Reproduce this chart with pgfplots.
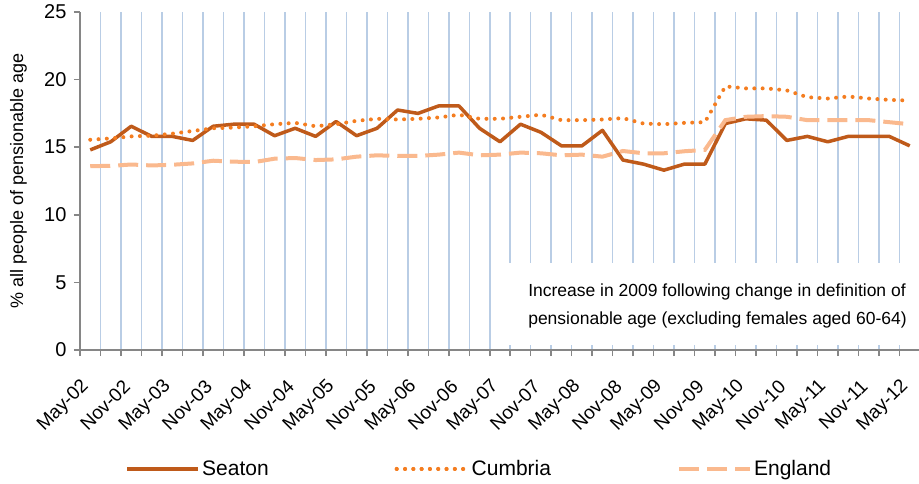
\documentclass[border=0pt]{standalone}
\usepackage{fontspec}
\setmainfont{Liberation Sans}
\usepackage{pgfplots}
\usepackage{pgfplotstable}
\pgfplotsset{compat=1.18}
\definecolor{seaton}{HTML}{BF5A1A}
\definecolor{cumbria}{HTML}{F47D20}
\definecolor{england}{HTML}{FAB98E}
\definecolor{gridblue}{HTML}{B9CDE5}
\definecolor{axisgray}{HTML}{868686}

\pgfplotstableread{
i s c e
0 14.8 15.55 13.6
1 15.4 15.65 13.62
2 16.55 15.8 13.72
3 15.8 15.85 13.65
4 15.8 16.0 13.7
5 15.5 16.2 13.8
6 16.55 16.4 14.0
7 16.7 16.45 13.93
8 16.7 16.55 13.9
9 15.85 16.7 14.15
10 16.4 16.8 14.2
11 15.8 16.55 14.05
12 16.9 16.7 14.1
13 15.85 16.95 14.3
14 16.4 17.1 14.4
15 17.75 17.05 14.35
16 17.5 17.1 14.35
17 18.05 17.2 14.45
18 18.05 17.4 14.6
19 16.4 17.1 14.4
20 15.4 17.1 14.45
21 16.7 17.25 14.6
22 16.1 17.4 14.55
23 15.1 17.0 14.4
24 15.1 17.0 14.45
25 16.25 17.05 14.3
26 14.05 17.15 14.72
27 13.75 16.75 14.55
28 13.3 16.7 14.55
29 13.75 16.8 14.7
30 13.75 16.85 14.8
31 16.75 19.5 17.0
32 17.1 19.35 17.25
33 17.0 19.35 17.3
34 15.5 19.2 17.25
35 15.8 18.7 17.0
36 15.4 18.6 17.0
37 15.8 18.75 17.0
38 15.8 18.6 17.0
39 15.8 18.5 16.85
40 15.1 18.45 16.7
}\data

\begin{document}
\begin{tikzpicture}
\begin{axis}[
  at={(0,0)}, anchor=south west,
  scale only axis, width=840bp, height=338bp,
  xmin=-0.5, xmax=40.5, ymin=0, ymax=25,
  axis lines=left,
  axis line style={-, draw=axisgray, line width=1.5bp},
  tick align=outside,
  major tick length=6bp,
  tick style={draw=axisgray, line width=1.5bp},
  xtick={-0.5,0.5,...,40.5},
  xticklabels={},
  xmajorgrids,
  major grid style={draw=gridblue, line width=1.5bp},
  extra x ticks={0,2,...,40},
  extra x tick labels={May-02,Nov-02,May-03,Nov-03,May-04,Nov-04,May-05,Nov-05,May-06,Nov-06,May-07,Nov-07,May-08,Nov-08,May-09,Nov-09,May-10,Nov-10,May-11,Nov-11,May-12},
  extra x tick style={grid=none, major tick length=0pt},
  xticklabel style={font=\fontsize{19bp}{23bp}\selectfont, yshift=-31bp, xshift=-2bp, rotate=45, anchor=east},
  ytick={0,5,...,25},
  yticklabel style={font=\fontsize{20bp}{24bp}\selectfont, xshift=-4bp},
  /pgf/number format/assume math mode=true,
  ylabel={\% all people of pensionable age},
  ylabel style={font=\fontsize{18bp}{22bp}\selectfont, at={(axis description cs:-0.0732,0.5)}, anchor=center},
  legend style={at={(0.4755,-0.352)}, anchor=center, draw=none, fill=none,
    font=\fontsize{21bp}{25bp}\selectfont, legend columns=3,
    /tikz/every even column/.append style={column sep=124bp}},
  legend image code/.code={\draw[#1] (0bp,0bp) -- (68bp,0bp); \path (0bp,0bp) -- (71bp,0bp);},
]
\addplot[seaton, line width=3.5bp, line join=round] table[x=i, y=s] {\data};
\addlegendentry{Seaton}
\addplot[cumbria, line width=4bp, line cap=round, dash pattern=on 0bp off 8.3bp] table[x=i, y=c] {\data};
\addlegendentry{Cumbria}
\addplot[england, line width=4bp, dash pattern=on 20bp off 8bp] table[x=i, y=e] {\data};
\addlegendentry{England}
\fill[white] (axis cs:20.0,0.37) rectangle (axis cs:41,6.43);
\node[anchor=base west, inner sep=0pt, font=\fontsize{17.5bp}{21bp}\selectfont] at (axis cs:21.37,3.99) {Increase in 2009 following change in definition of};
\node[anchor=base west, inner sep=0pt, font=\fontsize{17.5bp}{21bp}\selectfont] at (axis cs:21.37,1.85) {pensionable age (excluding females aged 60-64)};
\end{axis}
\pgfresetboundingbox
\path (-80bp,-134bp) rectangle (839bp,350bp);
\end{tikzpicture}
\end{document}
